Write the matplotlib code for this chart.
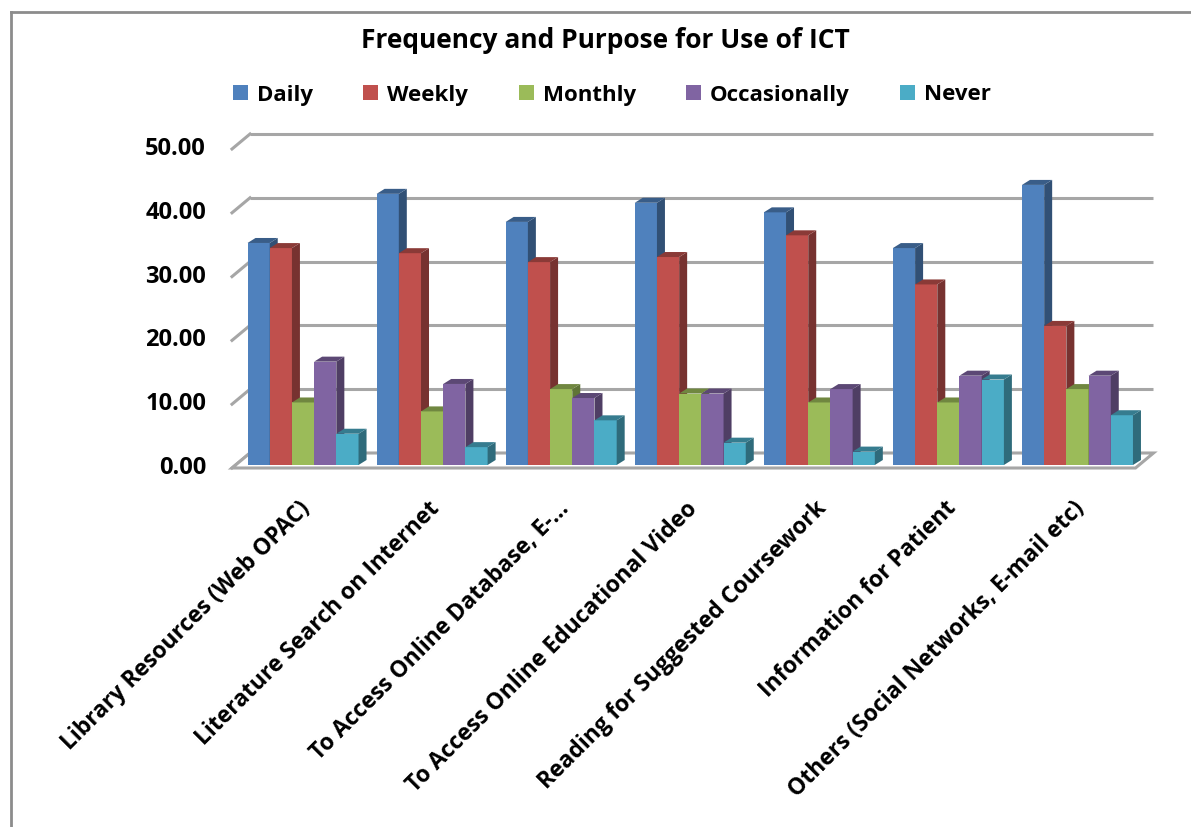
import matplotlib
matplotlib.use('Agg')
import matplotlib.pyplot as plt
import matplotlib.transforms as mtransforms
from matplotlib.patches import Polygon, Patch
from matplotlib.lines import Line2D
import numpy as np

plt.rcParams['font.family'] = ['Open Sans', 'DejaVu Sans']

title = "Frequency and Purpose for Use of ICT"
categories = [
    "Library Resources (Web OPAC)",
    "Literature Search on Internet",
    "To Access Online Database, E-\u2026",
    "To Access Online Educational Video",
    "Reading for Suggested Coursework",
    "Information for Patient",
    "Others (Social Networks, E-mail etc)",
]
series_names = ["Daily", "Weekly", "Monthly", "Occasionally", "Never"]
daily = [34.8, 42.5, 38.1, 41.1, 39.6, 34.0, 43.9]
weekly = [34.0, 33.2, 31.8, 32.6, 36.0, 28.3, 21.8]
monthly = [9.8, 8.4, 11.9, 11.2, 9.8, 9.8, 11.9]
occasionally = [16.2, 12.7, 10.5, 11.2, 11.9, 14.0, 14.0]
never = [4.9, 2.8, 7.0, 3.5, 2.1, 13.4, 7.8]
yticks = [0, 10, 20, 30, 40, 50]
ytick_labels = ["0.00", "10.00", "20.00", "30.00", "40.00", "50.00"]

series_values = [daily, weekly, monthly, occasionally, never]
colors = ["#4F81BD", "#C0504D", "#9BBB59", "#8064A2", "#4BACC6"]


def shade(hex_color, f):
    rgb = np.array(matplotlib.colors.to_rgb(hex_color))
    return tuple(np.clip(rgb * f, 0, 1))


W, H, DPI = 1191, 827, 100
fig = plt.figure(figsize=(W / DPI, H / DPI), dpi=DPI)
fig.patch.set_facecolor('white')

# axes = bar plane (pixel geometry)
L, T, R, B = 238.5, 146, 1142, 465
ax = fig.add_axes([L / W, 1 - B / H, (R - L) / W, (B - T) / H])
ax.set_xlim(-0.5, 6.5)
ax.set_ylim(0, 50)
ax.patch.set_visible(False)
for s in ax.spines.values():
    s.set_visible(False)

pxx = (R - L) / 7.0
pxy = (B - T) / 50.0
# depth offsets in data units
fdx, fdy = -6.5 / pxx, -3 / pxy      # front plane
bdx, bdy = 11.5 / pxx, 12 / pxy      # back wall
ddx, ddy = 8 / pxx, 5 / pxy          # bar depth

grid_c = "#a6a6a6"
# back wall gridlines
for v in yticks[1:]:
    ax.plot([-0.5 + bdx, 6.5 + bdx], [v + bdy, v + bdy], color=grid_c, lw=2.2,
            clip_on=False, zorder=1, solid_capstyle='butt')
# left wall slants
for v in yticks:
    ax.plot([-0.5 + fdx, -0.5 + bdx], [v + fdy, v + bdy], color=grid_c, lw=2.2,
            clip_on=False, zorder=1)
# floor
floor = Polygon([(-0.5 + fdx, fdy), (6.5 + fdx, fdy), (6.5 + bdx, bdy), (-0.5 + bdx, bdy)],
                closed=True, facecolor="white", edgecolor=grid_c, lw=2.2,
                clip_on=False, zorder=1.5)
ax.add_patch(floor)

# bars
n_series = len(series_values)
bw = 0.172
gap = 1.0 - n_series * bw
x = np.arange(len(categories))
k = 0
for i in range(len(categories)):
    for j in range(n_series):
        v = series_values[j][i]
        xl = x[i] - 0.5 + gap / 2 + j * bw
        xr = xl + bw
        z = 3 + k * 0.001
        ax.bar(xl, v, width=bw, align='edge', color=colors[j], zorder=z,
               label=series_names[j] if i == 0 else None, lw=0, clip_on=False)
        side = Polygon([(xr, 0), (xr + ddx, ddy), (xr + ddx, v + ddy), (xr, v)],
                       closed=True, facecolor=shade(colors[j], 0.62), lw=0,
                       zorder=z, clip_on=False)
        top = Polygon([(xl, v), (xr, v), (xr + ddx, v + ddy), (xl + ddx, v + ddy)],
                      closed=True, facecolor=shade(colors[j], 0.72), lw=0,
                      zorder=z, clip_on=False)
        ax.add_patch(side)
        ax.add_patch(top)
        k += 1

# y ticks
ax.set_yticks(yticks, ytick_labels)
ax.tick_params(axis='y', length=0, pad=23.4, labelsize=17)
for lbl in ax.get_yticklabels():
    lbl.set_fontweight('bold')

# x ticks
ax.set_xticks(x, categories)
ax.tick_params(axis='x', length=0, pad=29, labelsize=16.5)
shift = mtransforms.ScaledTranslation(4 / 100.0, 0, fig.dpi_scale_trans)
for lbl in ax.get_xticklabels():
    lbl.set_rotation(45)
    lbl.set_ha('right')
    lbl.set_va('center')
    lbl.set_rotation_mode('anchor')
    lbl.set_fontweight('bold')
    lbl.set_transform(lbl.get_transform() + shift)

# title
fig.text(605 / W, 1 - 40 / H, title, ha='center', va='center', fontsize=19,
         fontweight='bold')

# legend
handles = [Patch(facecolor=c, edgecolor='none', label=n) for c, n in zip(colors, series_names)]
fig.legend(handles=handles, loc='center', bbox_to_anchor=(612 / W, 1 - 95 / H), ncol=5,
           frameon=False, prop={'weight': 'bold', 'size': 16}, handlelength=0.68,
           handleheight=0.68, handletextpad=0.4, columnspacing=2.27)

# chart frame
fig.add_artist(Line2D([11 / W, 1.0], [1 - 12 / H, 1 - 12 / H], color="#8c8c8c", lw=2))
fig.add_artist(Line2D([11 / W, 11 / W], [0, 1 - 12 / H], color="#8c8c8c", lw=2))

fig.savefig("out.png", dpi=DPI)
